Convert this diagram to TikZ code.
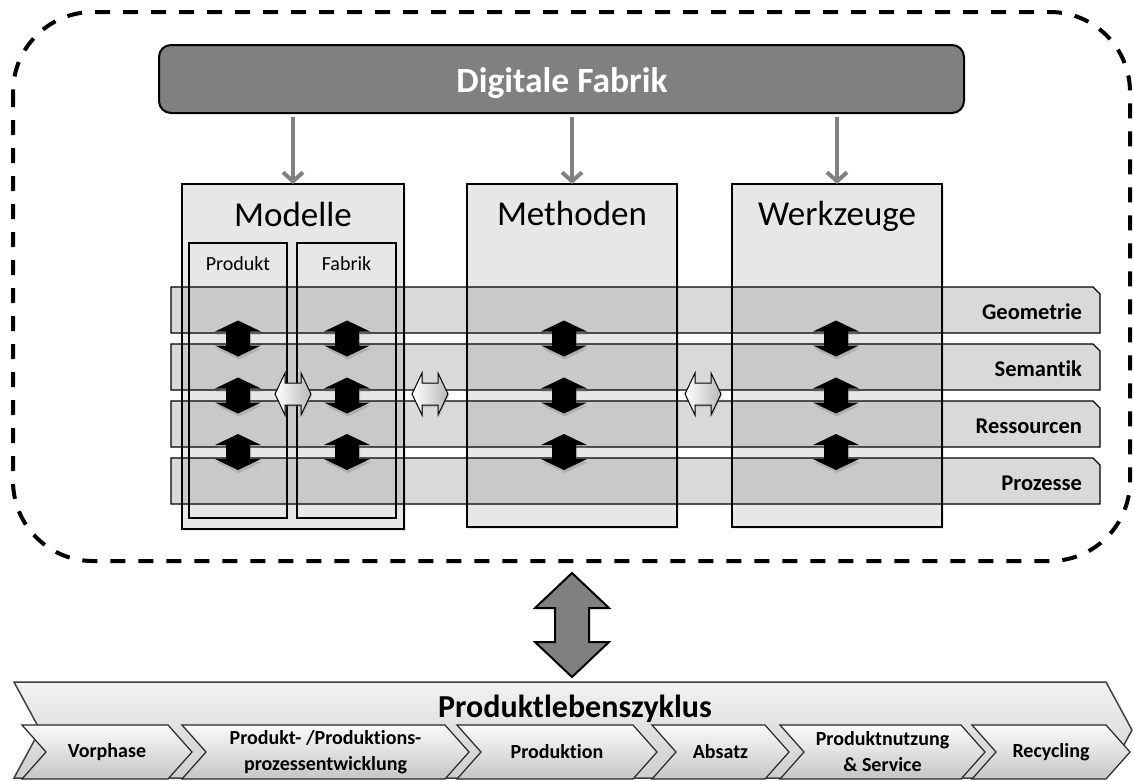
\documentclass[tikz,border=0pt]{standalone}
\usepackage{fontspec}
\setmainfont{Carlito}[Ligatures=NoCommon]
\usetikzlibrary{arrows.meta,shadows,calc}

\definecolor{dfgray}{gray}{0.5}
\definecolor{colfill}{gray}{0.905}
\definecolor{bandtint}{gray}{0.54}

% one phase of the life cycle: name, left x, right x, text
\newcommand\lcchev[4]{%
  \draw[chev] (#2,725) -- (#3,725) -- ({#3+24},752) -- (#3,779) -- (#2,779) -- ({#2+24},752) -- cycle;
  \node[chevtext] (#1) at ({(#2+#3)/2+12},752) {#4};}

% one horizontal layer band: name, top y, bottom y, label
\newcommand\layerband[4]{%
  \draw[band] (171,#2) -- (1093,#2) -- (1100,{#2+7}) -- (1100,#3) -- (171,#3) -- cycle;
  \node[bandlabel] (#1) at (1082,{(#2+#3)/2+9.5}) {#4};}

\begin{document}
\begin{tikzpicture}[x=1pt,y=-1pt,
  every node/.style={inner sep=0pt, outer sep=0pt},
  frame/.style={line width=4pt, dash pattern=on 15pt off 13pt, rounded corners=80pt},
  dfbox/.style={draw=black, line width=2pt, fill=dfgray, rounded corners=12pt,
    minimum width=805pt, minimum height=68pt},
  colbox/.style={draw=black, line width=1.2pt, fill=colfill,
    drop shadow={opacity=0.18, shadow xshift=2pt, shadow yshift=-2pt}},
  outline/.style={draw=black, line width=1.2pt},
  coltitle/.style={font=\fontsize{35}{40}\selectfont, anchor=base},
  subtitle/.style={font=\fontsize{20}{24}\selectfont, anchor=base},
  band/.style={draw=black, line width=1.2pt, fill=bandtint, fill opacity=0.32},
  bandlabel/.style={font=\fontsize{22.5}{26}\selectfont\bfseries, anchor=base east},
  feed/.style={draw=dfgray, line width=4pt, -{Straight Barb[length=9pt,width=20pt]}, shorten <=4pt},
  bigarrow/.style={draw=black, line width=2pt, fill=dfgray, line join=miter},
  lcbig/.style={draw=black!75, line width=1.5pt, top color=gray!10, bottom color=gray!38},
  lctitle/.style={font=\fontsize{32}{36}\selectfont\bfseries, anchor=base},
  chev/.style={draw=black!85, line width=1.2pt, top color=gray!4, bottom color=gray!45},
  chevtext/.style={font=\fontsize{20}{26}\selectfont\bfseries, align=center},
  vlink/.pic={\fill[black, drop shadow={opacity=0.35, shadow xshift=1pt, shadow yshift=-3pt}]
    (0,-18) -- (23,-7) -- (12,-7) -- (12,7) -- (23,7) -- (0,18) -- (-23,7) -- (-12,7) -- (-12,-7) -- (-23,-7) -- cycle;},
  hlink/.pic={\draw[line width=1pt, left color=white, right color=gray!55,
    drop shadow={opacity=0.3, shadow xshift=1pt, shadow yshift=-2pt}]
    (-18,0) -- (-8,-21) -- (-8,-11) -- (8,-11) -- (8,-21) -- (18,0) -- (8,21) -- (8,11) -- (-8,11) -- (-8,21) -- cycle;}
]
\useasboundingbox (0,0) rectangle (1134,780);

% dashed frame of the digital factory
\draw[frame] (13,12) rectangle (1130,561);

% headline box
\node[dfbox] (df) at (561.5,79) {};
\node[font=\fontsize{35.5}{40}\selectfont\bfseries, text=white, anchor=base] (dft) at (562,92) {Digitale Fabrik};

% three pillars
\node[colbox, minimum width=222pt, minimum height=345pt] (modelle) at (293,356.5) {};
\node[colbox, minimum width=210pt, minimum height=343pt] (methoden) at (572,355.5) {};
\node[colbox, minimum width=210pt, minimum height=343pt] (werkzeuge) at (837,355.5) {};
\node[coltitle] (modelle-t) at (293,226) {Modelle};
\node[coltitle] (methoden-t) at (572,225) {Methoden};
\node[coltitle] (werkzeuge-t) at (837,225) {Werkzeuge};

% layers
\layerband{geo}{287}{333}{Geometrie}
\layerband{sem}{344}{390}{Semantik}
\layerband{res}{401}{447}{Ressourcen}
\layerband{proz}{458}{504}{Prozesse}

% pillar outlines on top of the layers
\draw[outline] (modelle.north west) rectangle (modelle.south east);
\draw[outline] (methoden.north west) rectangle (methoden.south east);
\draw[outline] (werkzeuge.north west) rectangle (werkzeuge.south east);
\node[outline, minimum width=98pt, minimum height=275pt] (produkt) at (238,380.5) {};
\node[outline, minimum width=99pt, minimum height=275pt] (fabrik) at (346.5,380.5) {};
\node[subtitle] (produkt-t) at (238,270) {Produkt};
\node[subtitle] (fabrik-t) at (346.5,270) {Fabrik};

% links between layers
\foreach \cx/\cn in {238/p, 347/f, 564/m, 836/w}
  \foreach \cy/\rn in {338.5/a, 395.5/b, 452/c}
    \pic (v\cn\rn) at (\cx,\cy) {vlink};

% links between models, methods and tools
\pic (hpf) at (293,394) {hlink};
\pic (hmm) at (430,394) {hlink};
\pic (hmw) at (703,394) {hlink};

% feeds from the headline box
\draw[feed] (df.south -| modelle.north) -- (modelle.north);
\draw[feed] (df.south -| methoden.north) -- (methoden.north);
\draw[feed] (df.south -| werkzeuge.north) -- (werkzeuge.north);

% exchange with the product life cycle
\draw[bigarrow] (572,573) -- (609,608) -- (589,608) -- (589,642) -- (609,642) -- (572,677)
  -- (535,642) -- (555,642) -- (555,608) -- (535,608) -- cycle;

% product life cycle
\draw[lcbig] (14,682) -- (1106,682) -- (1132,730) -- (1106,778) -- (14,778) -- (40,730) -- cycle;
\node[lctitle] (plz) at (575,717) {Produktlebenszyklus};

\lcchev{vor}{22}{168}{Vorphase}
\lcchev{pep}{182}{445}{Produkt- /Produktions-\\prozessentwicklung}
\lcchev{prod}{457}{633}{Produktion}
\lcchev{abs}{652}{765}{Absatz}
\lcchev{nutz}{780}{961}{Produktnutzung\\\& Service}
\lcchev{rec}{972}{1106}{Recycling}
\end{tikzpicture}
\end{document}
